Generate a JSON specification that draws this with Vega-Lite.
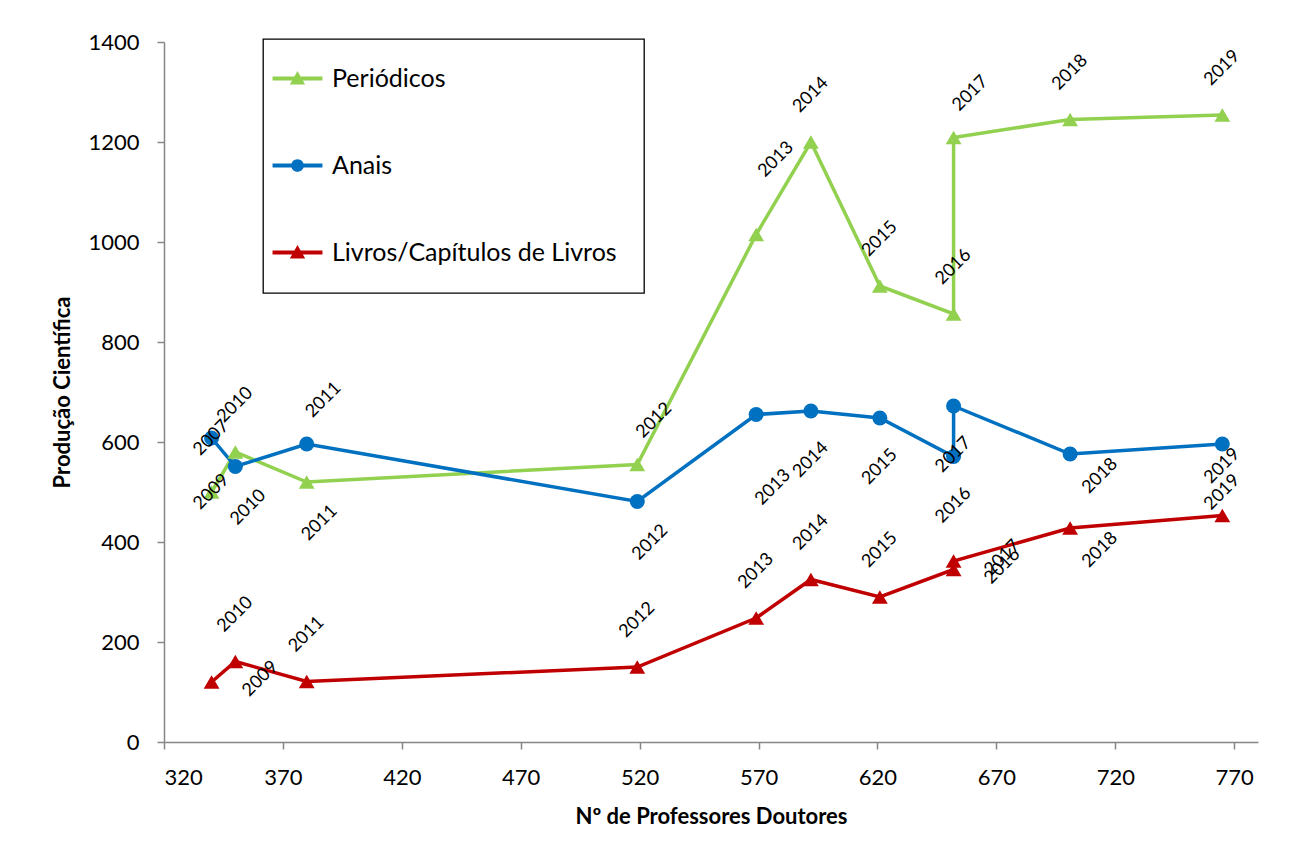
{
  "$schema": "https://vega.github.io/schema/vega-lite/v6.json",
  "width": 1094,
  "height": 700,
  "autosize": {"type": "none"},
  "padding": {"left": 164, "top": 42, "right": 37, "bottom": 117},
  "background": "white",
  "config": {
    "view": {"stroke": null},
    "font": "Lato",
    "axis": {
      "grid": false,
      "domainColor": "#868686",
      "domainWidth": 1.5,
      "tickColor": "#868686",
      "tickWidth": 1.5,
      "tickSize": 7,
      "labelFont": "Lato",
      "labelFontSize": 22,
      "labelColor": "#000000",
      "labelPadding": 18,
      "titleFont": "Lato",
      "titleFontSize": 22,
      "titleFontWeight": "bold",
      "titleColor": "#000000"
    },
    "legend": {
      "orient": "none",
      "legendX": 99,
      "legendY": -3,
      "padding": 27,
      "strokeColor": "#000000",
      "fillColor": "#ffffff",
      "symbolSize": 576,
      "symbolOffset": -5,
      "symbolOpacity": 1,
      "rowPadding": 61,
      "labelOffset": 22,
      "labelFont": "Lato",
      "labelFontSize": 25,
      "labelColor": "#000000",
      "labelLimit": 500
    }
  },
  "data": {
    "values": [
      {"series": "Periódicos", "year": 2009, "x": 340, "y": 500},
      {"series": "Periódicos", "year": 2010, "x": 350, "y": 580},
      {"series": "Periódicos", "year": 2011, "x": 380, "y": 520},
      {"series": "Periódicos", "year": 2012, "x": 519, "y": 555},
      {"series": "Periódicos", "year": 2013, "x": 569, "y": 1015},
      {"series": "Periódicos", "year": 2014, "x": 592, "y": 1200},
      {"series": "Periódicos", "year": 2015, "x": 621, "y": 912},
      {"series": "Periódicos", "year": 2016, "x": 652, "y": 856},
      {"series": "Periódicos", "year": 2017, "x": 652, "y": 1209},
      {"series": "Periódicos", "year": 2018, "x": 701, "y": 1245},
      {"series": "Periódicos", "year": 2019, "x": 765, "y": 1254},
      {"series": "Anais", "year": 2007, "x": 340, "y": 608},
      {"series": "Anais", "year": 2010, "x": 350, "y": 551},
      {"series": "Anais", "year": 2011, "x": 380, "y": 596},
      {"series": "Anais", "year": 2012, "x": 519, "y": 481},
      {"series": "Anais", "year": 2013, "x": 569, "y": 655},
      {"series": "Anais", "year": 2014, "x": 592, "y": 662},
      {"series": "Anais", "year": 2015, "x": 621, "y": 648},
      {"series": "Anais", "year": 2016, "x": 652, "y": 571},
      {"series": "Anais", "year": 2017, "x": 652, "y": 672},
      {"series": "Anais", "year": 2018, "x": 701, "y": 576},
      {"series": "Anais", "year": 2019, "x": 765, "y": 596},
      {"series": "Livros/Capítulos de Livros", "year": 2009, "x": 340, "y": 120},
      {"series": "Livros/Capítulos de Livros", "year": 2010, "x": 350, "y": 161},
      {"series": "Livros/Capítulos de Livros", "year": 2011, "x": 380, "y": 121},
      {"series": "Livros/Capítulos de Livros", "year": 2012, "x": 519, "y": 150},
      {"series": "Livros/Capítulos de Livros", "year": 2013, "x": 569, "y": 248},
      {"series": "Livros/Capítulos de Livros", "year": 2014, "x": 592, "y": 325},
      {"series": "Livros/Capítulos de Livros", "year": 2015, "x": 621, "y": 290},
      {"series": "Livros/Capítulos de Livros", "year": 2016, "x": 652, "y": 345},
      {"series": "Livros/Capítulos de Livros", "year": 2017, "x": 652, "y": 362},
      {"series": "Livros/Capítulos de Livros", "year": 2018, "x": 701, "y": 428},
      {"series": "Livros/Capítulos de Livros", "year": 2019, "x": 765, "y": 453}
    ]
  },
  "encoding": {
    "x": {
      "field": "x", "type": "quantitative",
      "scale": {"domain": [320, 780], "nice": false, "zero": false},
      "axis": {"values": [320, 370, 420, 470, 520, 570, 620, 670, 720, 770], "format": "d", "title": "Nº de Professores Doutores", "titlePadding": 18}
    },
    "y": {
      "field": "y", "type": "quantitative",
      "scale": {"domain": [0, 1400], "nice": false},
      "axis": {"values": [0, 200, 400, 600, 800, 1000, 1200, 1400], "format": "d", "title": "Produção Científica", "titlePadding": 13}
    }
  },
  "layer": [
    {
      "mark": {"type": "line", "strokeWidth": 3.5},
      "encoding": {
        "color": {
          "field": "series", "type": "nominal",
          "scale": {"domain": ["Periódicos", "Anais", "Livros/Capítulos de Livros"], "range": ["#92D050", "#0070C0", "#C00000"]},
          "legend": {
            "title": null,
            "encode": {
              "legend": {"update": {"strokeWidth": {"value": 1.3}}},
              "symbols": {
                "update": {
                  "shape": {"signal": "datum.value == 'Anais' ? 'M-2.08,-0.17H2.08V0.17H-2.08Z M0.53,0 A0.53,0.53 0 1 1 -0.53,0 A0.53,0.53 0 1 1 0.53,0 Z' : 'M-2.08,-0.17H2.08V0.17H-2.08Z M0,-0.62 L0.64,0.5 L-0.64,0.5 Z'"},
                  "size": {"value": 576},
                  "fill": {"signal": "datum.value == 'Anais' ? '#0070C0' : datum.value == 'Periódicos' ? '#92D050' : '#C00000'"},
                  "stroke": {"value": "transparent"},
                  "strokeWidth": {"value": 0},
                  "opacity": {"value": 1}
                }
              }
            }
          }
        },
        "order": {"field": "year", "type": "quantitative"}
      }
    },
    {
      "transform": [{"filter": "datum.series != 'Anais'"}],
      "mark": {"type": "point", "shape": "triangle-up", "filled": true, "opacity": 1, "size": 250},
      "encoding": {
        "color": {
          "field": "series", "type": "nominal",
          "scale": {"domain": ["Periódicos", "Anais", "Livros/Capítulos de Livros"], "range": ["#92D050", "#0070C0", "#C00000"]},
          "legend": {
            "title": null,
            "encode": {
              "legend": {"update": {"strokeWidth": {"value": 1.3}}},
              "symbols": {
                "update": {
                  "shape": {"signal": "datum.value == 'Anais' ? 'M-2.08,-0.17H2.08V0.17H-2.08Z M0.53,0 A0.53,0.53 0 1 1 -0.53,0 A0.53,0.53 0 1 1 0.53,0 Z' : 'M-2.08,-0.17H2.08V0.17H-2.08Z M0,-0.62 L0.64,0.5 L-0.64,0.5 Z'"},
                  "size": {"value": 576},
                  "fill": {"signal": "datum.value == 'Anais' ? '#0070C0' : datum.value == 'Periódicos' ? '#92D050' : '#C00000'"},
                  "stroke": {"value": "transparent"},
                  "strokeWidth": {"value": 0},
                  "opacity": {"value": 1}
                }
              }
            }
          }
        }
      }
    },
    {
      "transform": [{"filter": "datum.series == 'Anais'"}],
      "mark": {"type": "point", "shape": "circle", "filled": true, "opacity": 1, "size": 225},
      "encoding": {
        "color": {
          "field": "series", "type": "nominal",
          "scale": {"domain": ["Periódicos", "Anais", "Livros/Capítulos de Livros"], "range": ["#92D050", "#0070C0", "#C00000"]},
          "legend": {
            "title": null,
            "encode": {
              "legend": {"update": {"strokeWidth": {"value": 1.3}}},
              "symbols": {
                "update": {
                  "shape": {"signal": "datum.value == 'Anais' ? 'M-2.08,-0.17H2.08V0.17H-2.08Z M0.53,0 A0.53,0.53 0 1 1 -0.53,0 A0.53,0.53 0 1 1 0.53,0 Z' : 'M-2.08,-0.17H2.08V0.17H-2.08Z M0,-0.62 L0.64,0.5 L-0.64,0.5 Z'"},
                  "size": {"value": 576},
                  "fill": {"signal": "datum.value == 'Anais' ? '#0070C0' : datum.value == 'Periódicos' ? '#92D050' : '#C00000'"},
                  "stroke": {"value": "transparent"},
                  "strokeWidth": {"value": 0},
                  "opacity": {"value": 1}
                }
              }
            }
          }
        }
      }
    },
    {
      "transform": [{"filter": "(datum.series == 'Periódicos' && indexof([2010, 2014, 2015, 2016, 2018, 2019], datum.year) >= 0) || (datum.series == 'Livros/Capítulos de Livros' && datum.year >= 2010 && datum.year <= 2015)"}],
      "mark": {"type": "text", "angle": 315, "dx": 33.2, "dy": -33.2, "font": "Lato", "fontSize": 18, "color": "#000000", "align": "center", "baseline": "middle"},
      "encoding": {"text": {"field": "year", "type": "nominal"}}
    },
    {
      "transform": [{"filter": "datum.series == 'Anais' && indexof([2014, 2015, 2016, 2017], datum.year) >= 0"}],
      "mark": {"type": "text", "angle": 315, "dx": -34.6, "dy": 34.6, "font": "Lato", "fontSize": 18, "color": "#000000", "align": "center", "baseline": "middle"},
      "encoding": {"text": {"field": "year", "type": "nominal"}}
    },
    {
      "transform": [{"filter": "(datum.series == 'Periódicos' && datum.year == 2011) || (datum.series == 'Anais' && (datum.year == 2010 || datum.year == 2012))"}],
      "mark": {"type": "text", "angle": 315, "dx": -19.8, "dy": 38.2, "font": "Lato", "fontSize": 18, "color": "#000000", "align": "center", "baseline": "middle"},
      "encoding": {"text": {"field": "year", "type": "nominal"}}
    },
    {
      "transform": [{"filter": "(datum.series == 'Periódicos' && (datum.year == 2012 || datum.year == 2017)) || (datum.series == 'Anais' && datum.year == 2011)"}],
      "mark": {"type": "text", "angle": 315, "dx": 43.1, "dy": -19.1, "font": "Lato", "fontSize": 18, "color": "#000000", "align": "center", "baseline": "middle"},
      "encoding": {"text": {"field": "year", "type": "nominal"}}
    },
    {
      "transform": [{"filter": "datum.series == 'Periódicos' && datum.year == 2013"}],
      "mark": {"type": "text", "angle": 315, "dx": 67.2, "dy": -38.9, "font": "Lato", "fontSize": 18, "color": "#000000", "align": "center", "baseline": "middle"},
      "encoding": {"text": {"field": "year", "type": "nominal"}}
    },
    {
      "transform": [{"filter": "datum.series == 'Anais' && datum.year == 2013"}],
      "mark": {"type": "text", "angle": 315, "dx": -39.6, "dy": 63.6, "font": "Lato", "fontSize": 18, "color": "#000000", "align": "center", "baseline": "middle"},
      "encoding": {"text": {"field": "year", "type": "nominal"}}
    },
    {
      "transform": [{"filter": "(datum.series == 'Periódicos' && datum.year == 2009) || (datum.series == 'Anais' && datum.year == 2007)"}],
      "mark": {"type": "text", "angle": 315, "dx": 0, "dy": 0, "font": "Lato", "fontSize": 18, "color": "#000000", "align": "center", "baseline": "middle"},
      "encoding": {"text": {"field": "year", "type": "nominal"}}
    },
    {
      "transform": [{"filter": "datum.series == 'Livros/Capítulos de Livros' && indexof([2009, 2016, 2017], datum.year) >= 0"}],
      "mark": {"type": "text", "angle": 315, "dx": 36.8, "dy": 32.5, "font": "Lato", "fontSize": 18, "color": "#000000", "align": "center", "baseline": "middle"},
      "encoding": {"text": {"field": "year", "type": "nominal"}}
    },
    {
      "transform": [{"filter": "datum.year == 2018 && datum.series != 'Periódicos'"}],
      "mark": {"type": "text", "angle": 315, "dx": 5.7, "dy": 36.8, "font": "Lato", "fontSize": 18, "color": "#000000", "align": "center", "baseline": "middle"},
      "encoding": {"text": {"field": "year", "type": "nominal"}}
    },
    {
      "transform": [{"filter": "datum.series == 'Anais' && datum.year == 2019"}],
      "mark": {"type": "text", "angle": 315, "dx": -15.6, "dy": 15.6, "font": "Lato", "fontSize": 18, "color": "#000000", "align": "center", "baseline": "middle"},
      "encoding": {"text": {"field": "year", "type": "nominal"}}
    },
    {
      "transform": [{"filter": "datum.series == 'Livros/Capítulos de Livros' && datum.year == 2019"}],
      "mark": {"type": "text", "angle": 315, "dx": 16.3, "dy": -16.3, "font": "Lato", "fontSize": 18, "color": "#000000", "align": "center", "baseline": "middle"},
      "encoding": {"text": {"field": "year", "type": "nominal"}}
    }
  ]
}
